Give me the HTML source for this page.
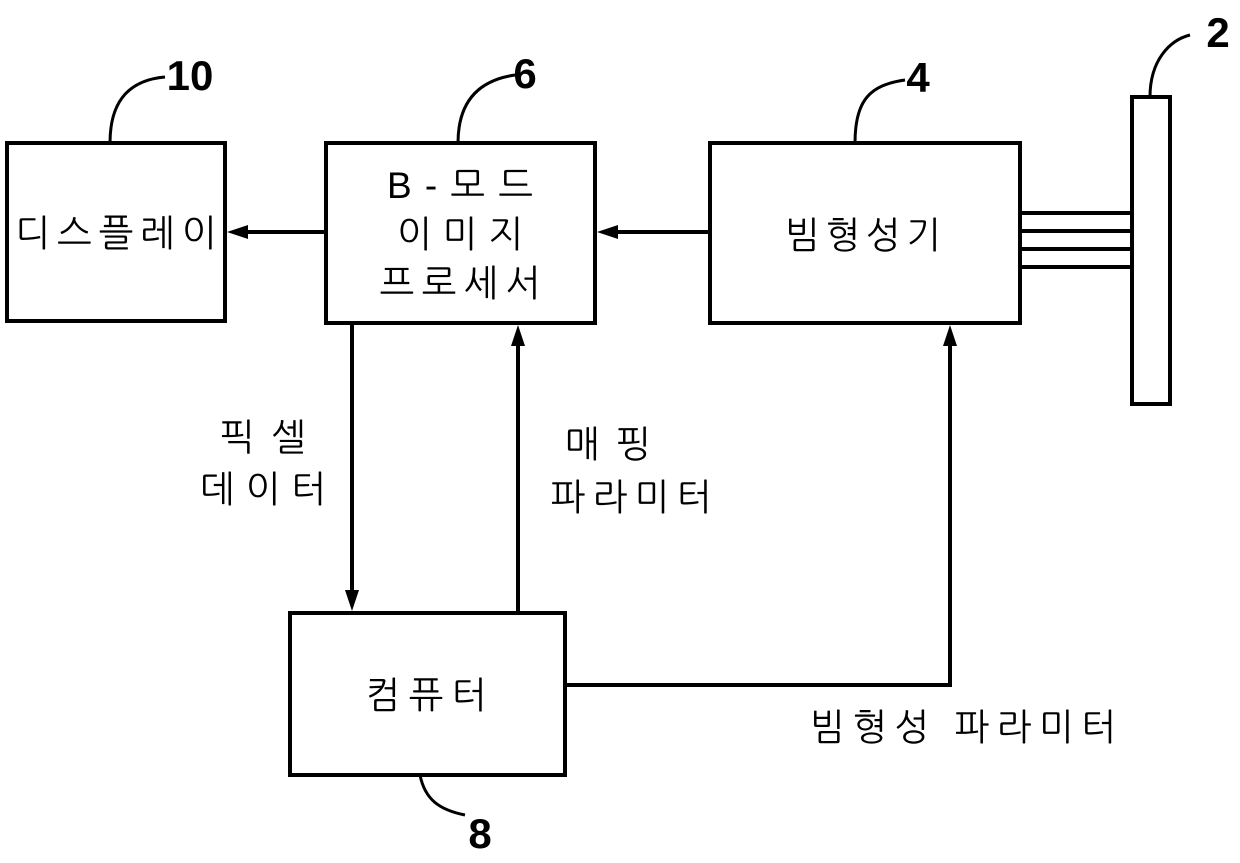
<!DOCTYPE html>
<html><head><meta charset="utf-8"><style>
body{margin:0;background:#fff;width:1240px;height:863px;overflow:hidden}
svg{display:block}
text{font-family:"Liberation Sans","NanumGothic","Noto Sans CJK KR",sans-serif;fill:#000}
</style></head><body>
<svg width="1240" height="863" viewBox="0 0 1240 863">
<g fill="none" stroke="#000" stroke-width="4">
<rect x="7" y="143" width="218" height="178"/>
<rect x="326" y="143" width="269" height="180"/>
<rect x="710" y="143" width="310" height="180"/>
<rect x="1132" y="97" width="38" height="307"/>
<rect x="290" y="613" width="275" height="162"/>
<line x1="1020" y1="213" x2="1132" y2="213"/>
<line x1="1020" y1="231" x2="1132" y2="231"/>
<line x1="1020" y1="249" x2="1132" y2="249"/>
<line x1="1020" y1="267" x2="1132" y2="267"/>
<line x1="326" y1="232" x2="245" y2="232"/>
<line x1="710" y1="232" x2="615" y2="232"/>
<line x1="352" y1="323" x2="352" y2="595"/>
<line x1="518" y1="613" x2="518" y2="343"/>
<polyline points="565,685 950,685 950,343"/>
<path d="M110 143 C110 100,130 80,165 77" stroke-width="3"/>
<path d="M458 143 C458 100,480 80,515 75" stroke-width="3"/>
<path d="M855 143 C855 100,870 85,905 80" stroke-width="3"/>
<path d="M1150 97 C1150 60,1170 40,1190 35" stroke-width="3"/>
<path d="M420 775 C425 800,440 810,465 815" stroke-width="3"/>
</g>
<g fill="#000">
<polygon points="227,232 248,225 248,239"/>
<polygon points="597,232 618,225 618,239"/>
<polygon points="352,611 345,590 359,590"/>
<polygon points="518,325 511,346 525,346"/>
<polygon points="950,325 943,346 957,346"/>
</g>
<g font-size="37" text-anchor="middle" letter-spacing="4">
<text x="118" y="246" textLength="205" lengthAdjust="spacing">디스플레이</text>
<text x="462" y="198" textLength="150" lengthAdjust="spacing">B-모드</text>
<text x="462" y="247" textLength="130" lengthAdjust="spacing">이미지</text>
<text x="462" y="296" textLength="165" lengthAdjust="spacing">프로세서</text>
<text x="865" y="248" textLength="160" lengthAdjust="spacing">빔형성기</text>
<text x="428" y="708" textLength="125" lengthAdjust="spacing">컴퓨터</text>
<text x="265" y="450" textLength="90" lengthAdjust="spacing">픽셀</text>
<text x="265" y="502" textLength="130" lengthAdjust="spacing">데이터</text>
<text x="610" y="457" textLength="90" lengthAdjust="spacing">매핑</text>
<text x="633" y="510" textLength="165" lengthAdjust="spacing">파라미터</text>
<text x="965" y="740" textLength="310" lengthAdjust="spacing">빔형성 파라미터</text>
</g>
<g font-size="42" text-anchor="middle" font-weight="bold">
<text x="190" y="90">10</text>
<text x="525" y="88">6</text>
<text x="918" y="92">4</text>
<text x="1218" y="47">2</text>
<text x="480" y="848">8</text>
</g>
</svg>
</body></html>
